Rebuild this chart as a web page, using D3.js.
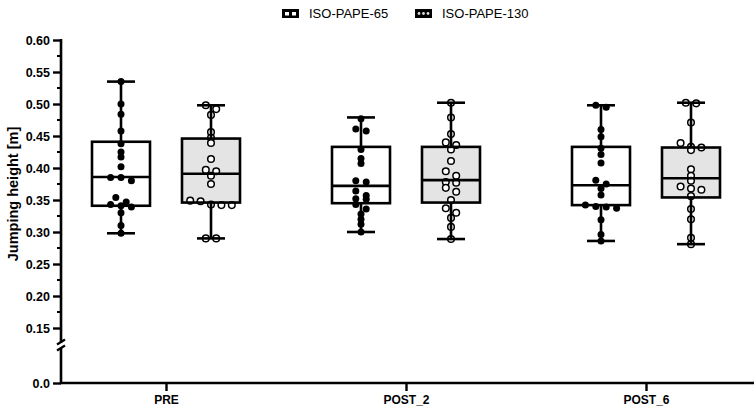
<!DOCTYPE html>
<html>
<head>
<meta charset="utf-8">
<script src="https://cdn.jsdelivr.net/npm/d3@7"></script>
<style>
  body { margin: 0; background: #fff; }
  svg { display: block; font-family: "Liberation Sans", Arial, sans-serif; }
</style>
</head>
<body>
<script>
// categories / series
var groups = ["PRE", "POST_2", "POST_6"];
var series = ["ISO-PAPE-65", "ISO-PAPE-130"];

// box stats per group: [min, q1, median, q3, max]
var box65  = [[0.298, 0.341, 0.386, 0.441, 0.535],
              [0.300, 0.345, 0.372, 0.433, 0.479],
              [0.286, 0.342, 0.373, 0.433, 0.498]];
var box130 = [[0.290, 0.346, 0.391, 0.446, 0.498],
              [0.289, 0.346, 0.381, 0.433, 0.502],
              [0.281, 0.354, 0.384, 0.432, 0.502]];

// individual jumps
var pre65   = [0.535,0.500,0.484,0.458,0.438,0.425,0.417,0.402,0.385,0.385,0.380,0.354,0.347,0.343,0.341,0.339,0.330,0.310,0.298];
var pre130  = [0.498,0.492,0.483,0.456,0.447,0.439,0.414,0.397,0.395,0.388,0.375,0.349,0.348,0.343,0.342,0.342,0.290,0.290];
var post2_65  = [0.477,0.461,0.458,0.429,0.415,0.407,0.380,0.378,0.364,0.357,0.352,0.351,0.343,0.336,0.328,0.320,0.312,0.300];
var post2_130 = [0.502,0.479,0.453,0.440,0.436,0.429,0.411,0.395,0.388,0.378,0.377,0.369,0.363,0.350,0.337,0.330,0.322,0.308,0.289];
var post6_65  = [0.498,0.495,0.460,0.449,0.431,0.421,0.408,0.381,0.375,0.368,0.358,0.342,0.340,0.339,0.337,0.319,0.296,0.286];
var post6_130 = [0.502,0.501,0.471,0.439,0.433,0.432,0.428,0.398,0.388,0.380,0.371,0.368,0.366,0.356,0.336,0.320,0.291,0.281];

var points65  = [pre65, post2_65, post6_65];
var points130 = [pre130, post2_130, post6_130];

var yTicks = [0.60, 0.55, 0.50, 0.45, 0.40, 0.35, 0.30, 0.25, 0.20, 0.15];

var svgWidth = 754, svgHeight = 410;

var svg = d3.select("body").append("svg")
  .attr("width", svgWidth)
  .attr("height", svgHeight);

// scales
var x = d3.scalePoint().domain(groups).range([61, 751]).padding(0.4375);
var y = d3.scaleLinear().domain([0.15, 0.60]).range([328, 40]);
var yLow = d3.scaleLinear().domain([0, 0.05]).range([383, 351]);
var dodge = d3.scaleOrdinal().domain(series).range([-45, 45]);

var boxW = 58, capW = 28, lane = 10.4;

// simple prism-like scatter: rows of close values are spread around the centre
function swarm(vals, cx) {
  var pts = vals.slice().sort((a, b) => b - a).map(v => ({v: v, py: y(v)}));
  var rows = [];
  pts.forEach(function(p) {
    var row = rows[rows.length - 1];
    if (!row || p.py - row[0].py > 4.5) rows.push([p]);
    else row.push(p);
  });
  rows.forEach(function(row) {
    row.forEach(function(p, i) { p.px = cx + (i - (row.length - 1) / 2) * lane; });
  });
  return pts;
}

function drawSeries(name, boxes, pts, fill, hollow) {
  var g = svg.append("g");
  groups.forEach(function(grp, i) {
    var cx = x(grp) + dodge(name);
    var s = boxes[i];
    g.append("rect")
      .attr("x", cx - boxW / 2).attr("y", y(s[3]))
      .attr("width", boxW).attr("height", y(s[1]) - y(s[3]))
      .attr("fill", fill);

    var dots = swarm(pts[i], cx);
    g.selectAll(null).data(dots).enter().append("circle")
      .attr("cx", d => d.px)
      .attr("cy", d => d.py)
      .attr("r", hollow ? 3.3 : 3.5)
      .attr("fill", hollow ? "#fff" : "#000")
      .attr("stroke", "#000")
      .attr("stroke-width", hollow ? 1.5 : 0);

    // outline, median, whiskers, caps on top
    g.append("rect")
      .attr("x", cx - boxW / 2).attr("y", y(s[3]))
      .attr("width", boxW).attr("height", y(s[1]) - y(s[3]))
      .attr("fill", "none").attr("stroke", "#000").attr("stroke-width", 2.6);
    g.append("line")
      .attr("x1", cx - boxW / 2).attr("x2", cx + boxW / 2)
      .attr("y1", y(s[2])).attr("y2", y(s[2]))
      .attr("stroke", "#000").attr("stroke-width", 2.6);
    [[s[3], s[4]], [s[1], s[0]]].forEach(function(w) {
      g.append("line")
        .attr("x1", cx).attr("x2", cx)
        .attr("y1", y(w[0])).attr("y2", y(w[1]))
        .attr("stroke", "#000").attr("stroke-width", 2.6);
      g.append("line")
        .attr("x1", cx - capW / 2).attr("x2", cx + capW / 2)
        .attr("y1", y(w[1])).attr("y2", y(w[1]))
        .attr("stroke", "#000").attr("stroke-width", 2.6);
    });
  });
}

drawSeries("ISO-PAPE-65", box65, points65, "#fff", false);
drawSeries("ISO-PAPE-130", box130, points130, "#e4e4e4", true);

// y axis (upper part)
var yAxis = d3.axisLeft(y).tickValues(yTicks).tickFormat(d3.format(".2f")).tickSize(8).tickPadding(3);
var ya = svg.append("g").attr("transform", "translate(61,0)").call(yAxis);
ya.select(".domain").remove();
ya.selectAll(".tick line").attr("stroke-width", 2.4);
ya.selectAll(".tick text").attr("font-size", 12.5).attr("font-weight", "bold").attr("fill", "#000")
  .attr("font-family", "'Liberation Sans', Arial, sans-serif");

// minor ticks
var minor = d3.range(0.175, 0.6, 0.05);
svg.append("g").selectAll("line").data(minor).enter().append("line")
  .attr("x1", 57).attr("x2", 61)
  .attr("y1", d => y(d)).attr("y2", d => y(d))
  .attr("stroke", "#000").attr("stroke-width", 2);

// lower part with 0.0
var yAxisLow = d3.axisLeft(yLow).tickValues([0]).tickFormat(d3.format(".1f")).tickSize(8).tickPadding(3);
var yl = svg.append("g").attr("transform", "translate(61,0)").call(yAxisLow);
yl.select(".domain").remove();
yl.selectAll(".tick line").attr("stroke-width", 2.4);
yl.selectAll(".tick text").attr("font-size", 12.5).attr("font-weight", "bold").attr("fill", "#000")
  .attr("font-family", "'Liberation Sans', Arial, sans-serif");

// axis line with break
svg.append("line").attr("x1", 61).attr("x2", 61).attr("y1", y(0.60) - 1).attr("y2", 343)
  .attr("stroke", "#000").attr("stroke-width", 2.6);
svg.append("line").attr("x1", 61).attr("x2", 61).attr("y1", 348).attr("y2", yLow(0))
  .attr("stroke", "#000").attr("stroke-width", 2.6);
[342, 348].forEach(function(by) {
  svg.append("line")
    .attr("x1", 57).attr("y1", by + 2.5).attr("x2", 65).attr("y2", by - 2.5)
    .attr("stroke", "#000").attr("stroke-width", 2.2);
});

// x axis
svg.append("line").attr("x1", 60).attr("x2", 754).attr("y1", yLow(0)).attr("y2", yLow(0))
  .attr("stroke", "#000").attr("stroke-width", 2.6);
var xAxis = d3.axisBottom(x).tickSize(8).tickPadding(4);
var xa = svg.append("g").attr("transform", "translate(0," + yLow(0) + ")").call(xAxis);
xa.select(".domain").remove();
xa.selectAll(".tick line").attr("stroke-width", 2.4);
xa.selectAll(".tick text").attr("font-size", 12).attr("font-weight", "bold").attr("fill", "#000")
  .attr("font-family", "'Liberation Sans', Arial, sans-serif");

// y title
svg.append("text")
  .attr("transform", "translate(18,194) rotate(-90)")
  .attr("text-anchor", "middle")
  .attr("font-size", 14.5)
  .attr("font-weight", "bold")
  .text("Jumping height [m]");

// legend
var legX = [282, 415];
series.forEach(function(name, i) {
  var lg = svg.append("g").attr("transform", "translate(" + legX[i] + ",9)");
  lg.append("rect").attr("width", 17).attr("height", 9).attr("fill", "#000");
  if (i === 0) {
    lg.append("rect").attr("x", 3).attr("y", 3).attr("width", 4).attr("height", 3.5).attr("fill", "#fff");
    lg.append("rect").attr("x", 10).attr("y", 3).attr("width", 4).attr("height", 3.5).attr("fill", "#fff");
  } else {
    [4, 8.5, 13].forEach(function(cx) {
      lg.append("circle").attr("cx", cx).attr("cy", 4.5).attr("r", 1.4).attr("fill", "#ddd");
    });
  }
  lg.append("text").attr("x", 27).attr("y", 9)
    .attr("font-size", 13).attr("fill", "#000")
    .text(name);
});
</script>
</body>
</html>
